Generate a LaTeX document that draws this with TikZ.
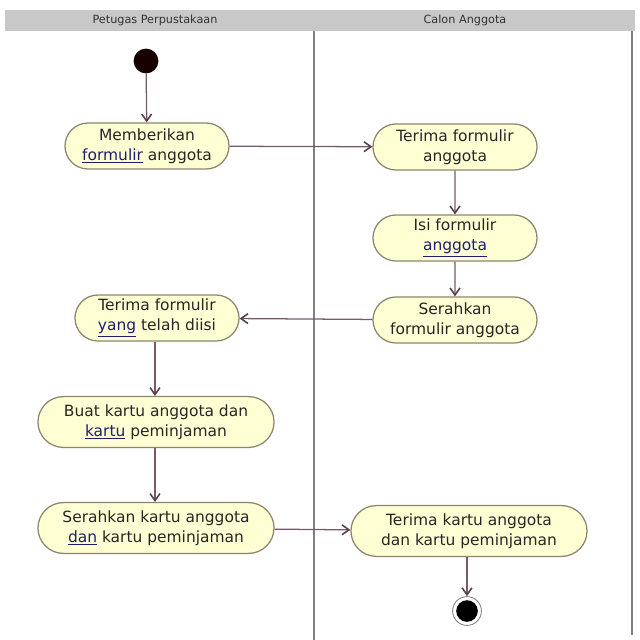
\documentclass[tikz,border=0pt]{standalone}
\usepackage{fontspec}
\setmainfont{DejaVu Sans}
\usetikzlibrary{shapes.misc,arrows.meta}

\definecolor{actfill}{RGB}{255,255,212}
\definecolor{actline}{RGB}{140,134,110}
\definecolor{flow}{RGB}{122,88,106}
\definecolor{lane}{RGB}{128,128,128}
\definecolor{typo}{RGB}{30,30,110}

\newcommand{\typo}[1]{\textcolor{typo}{\underline{#1}}}

\tikzset{
  act/.style={rounded rectangle, draw=actline, fill=actfill, line width=0.9pt,
    align=center, inner sep=0pt, minimum width=4.1cm, minimum height=1.15cm,
    text=black!85, font=\fontsize{11}{14.2}\selectfont},
  wide/.style={act, minimum width=5.9cm, minimum height=1.27cm},
  flw/.style={draw=flow, line width=0.9pt,
    -{Straight Barb[length=5pt,width=7pt,line width=1.1pt,color=flow!70!black]}}
}

\begin{document}
\begin{tikzpicture}[x=0.025cm,y=-0.025cm]

\useasboundingbox (0,0) rectangle (640,640);

% swimlanes
\path[fill={rgb,255:red,200;green,200;blue,200}] (5,10) rectangle (635,31);
\node at (155,20) {\fontsize{8}{9}\selectfont\color{black!80}Petugas Perpustakaan};
\node at (465,20) {\fontsize{8}{9}\selectfont\color{black!80}Calon Anggota};
\draw [lane, line width=1pt] (314,31) to (314,640);
\draw [lane, line width=1pt] (632,31) to (632,635);

% start and end
\node (start) at (146,61) [circle, fill=black!90!red, minimum size=0.62cm, inner sep=0pt] {};
\node (stop) at (467,611) [circle, draw=lane, line width=0.6pt, fill=white, minimum size=0.72cm, inner sep=0pt] {};
\node at (stop) [circle, fill=black, minimum size=0.54cm, inner sep=0pt] {};

% activities
\node (beri) at (147,146) [act] {Memberikan\\\typo{formulir} anggota};
\node (terima) at (455,147) [act] {Terima formulir\\anggota};
\node (isi) at (455,238) [act] {Isi formulir\\\typo{anggota}};
\node (serah) at (455,320) [act] {Serahkan\\formulir anggota};
\node (diisi) at (157,318) [act] {Terima formulir\\\typo{yang} telah diisi};
\node (buat) at (156,422) [wide] {Buat kartu anggota dan\\\typo{kartu} peminjaman};
\node (kartu) at (156,528) [wide] {Serahkan kartu anggota\\\typo{dan} kartu peminjaman};
\node (dapat) at (469,531) [wide] {Terima kartu anggota\\dan kartu peminjaman};

% flows
\draw [flw] (start) to (beri);
\draw [flw] (beri) to (terima);
\draw [flw] (terima) to (isi);
\draw [flw] (isi) to (serah);
\draw [flw] (serah) to (diisi);
\draw [flw] (diisi.south -| 155,0) to (buat.north -| 155,0);
\draw [flw] (buat.south -| 155,0) to (kartu.north -| 155,0);
\draw [flw] (kartu) to (dapat);
\draw [flw] (dapat.south -| stop) to (stop);

\end{tikzpicture}
\end{document}
